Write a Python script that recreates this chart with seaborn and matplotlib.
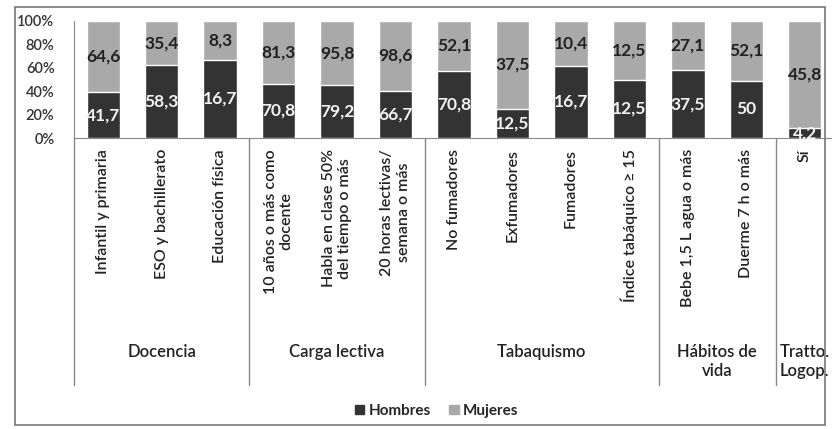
import pandas as pd
import matplotlib.pyplot as plt
import matplotlib.patches as mpatches
import seaborn as sns

# Data
categorias = [
    "Infantil y primaria", "ESO y bachillerato", "Educación física",
    "10 años o más como\ndocente", "Habla en clase 50%\ndel tiempo o más",
    "20 horas lectivas/\nsemana o más",
    "No fumadores", "Exfumadores", "Fumadores", "Índice tabáquico ≥ 15",
    "Bebe 1,5 L agua o más", "Duerme 7 h o más",
    "Sí",
]
hombres = [41.7, 58.3, 16.7, 70.8, 79.2, 66.7, 70.8, 12.5, 16.7, 12.5, 37.5, 50, 4.2]
mujeres = [64.6, 35.4, 8.3, 81.3, 95.8, 98.6, 52.1, 37.5, 10.4, 12.5, 27.1, 52.1, 45.8]
grupos = ["Docencia", "Carga lectiva", "Tabaquismo", "Hábitos de\nvida", "Tratto.\nLogop."]
grupo_n = [3, 3, 4, 2, 1]

DARK = "#333333"
LIGHT = "#a9a9a9"


def fmt(v):
    return f"{v:g}".replace(".", ",")


def plot_chart():
    df = pd.DataFrame({"cat": categorias, "h": hombres, "m": mujeres})
    df["h_pct"] = df["h"] / (df["h"] + df["m"]) * 100
    df["total"] = 100.0

    sns.set_style("white")
    plt.rcParams["font.family"] = ["Lato", "DejaVu Sans"]

    fig = plt.figure(figsize=(8.32, 4.29), dpi=100)
    ax = fig.add_axes([74 / 832, 1 - 138 / 429, 760 / 832, 117 / 429])

    sns.barplot(data=df, x="cat", y="total", color=LIGHT, width=0.57,
                saturation=1, ax=ax, order=categorias)
    sns.barplot(data=df, x="cat", y="h_pct", color=DARK, width=0.57,
                saturation=1, ax=ax, order=categorias)

    for i, row in df.iterrows():
        ax.text(i, row["h_pct"] / 2, fmt(row["h"]), ha="center", va="center",
                color="#f2f2f2", fontsize=12.5, fontweight="bold")
        ax.text(i, (row["h_pct"] + 100) / 2, fmt(row["m"]), ha="center", va="center",
                color="#222222", fontsize=12.5, fontweight="bold")

    ax.set_ylim(0, 100)
    ax.set_xlim(-0.5, len(categorias) - 0.5)
    ax.set_yticks(range(0, 101, 20))
    ax.set_yticklabels([f"{t}%" for t in range(0, 101, 20)], fontsize=10.5,
                       color="#333333", fontweight="semibold")
    ax.set_xticks(range(len(categorias)))
    ax.set_xticklabels(categorias, rotation=90, fontsize=11.5, color="#222222",
                       multialignment="center", fontweight="semibold")
    ax.tick_params(axis="both", length=0)
    ax.tick_params(axis="x", pad=8)
    ax.tick_params(axis="y", pad=14)
    ax.set_xlabel("")
    ax.set_ylabel("")
    for s in ["top", "right"]:
        ax.spines[s].set_visible(False)
    ax.spines["left"].set_color("#888888")
    ax.spines["bottom"].set_color("#888888")

    # group dividers and labels under the axis
    trans = ax.get_xaxis_transform()
    start = -0.5
    ax.plot([start, start], [0, -2.11], transform=trans, color="#888888",
            lw=1, clip_on=False)
    for g, n in zip(grupos, grupo_n):
        end = start + n
        ax.plot([end, end], [0, -2.11], transform=trans, color="#888888",
                lw=1, clip_on=False)
        ax.text((start + end) / 2, -1.76, g, transform=trans, ha="center",
                va="top", fontsize=12, color="#222222", linespacing=1.2,
                fontweight="semibold")
        start = end

    handles = [mpatches.Patch(color=DARK, label="Hombres"),
               mpatches.Patch(color=LIGHT, label="Mujeres")]
    fig.legend(handles=handles, loc="center", bbox_to_anchor=(0.525, 0.042),
               ncol=2, frameon=False, handlelength=0.6, handleheight=0.6,
               handletextpad=0.3, columnspacing=1.2,
               prop={"weight": "bold", "size": 11})

    fig.patches.append(mpatches.Rectangle((15 / 832, 4 / 429), 810 / 832, 418 / 429,
                                          transform=fig.transFigure, fill=False,
                                          edgecolor="#777777", lw=1.2))

    fig.savefig("out.png", dpi=100)


if __name__ == "__main__":
    plot_chart()
